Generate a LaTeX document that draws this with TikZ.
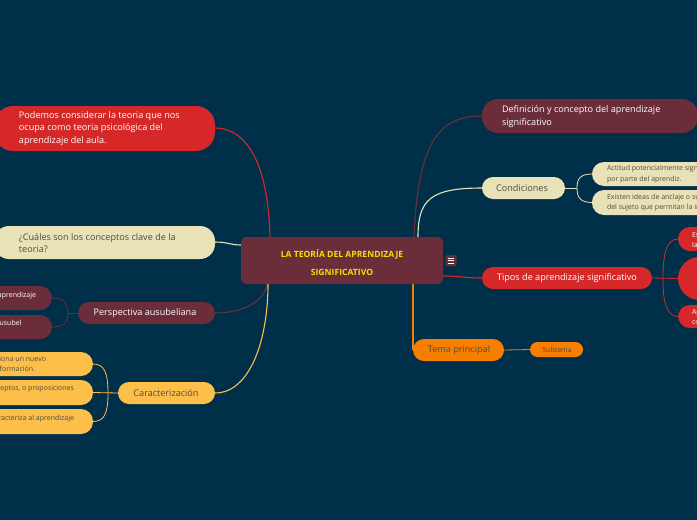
\documentclass[tikz,border=0pt]{standalone}
\usepackage{fontspec}
\setmainfont{Open Sans}
\definecolor{cbg}{HTML}{003049}
\definecolor{cred}{HTML}{D62828}
\definecolor{corange}{HTML}{F77F00}
\definecolor{cyellow}{HTML}{FCBF49}
\definecolor{cbeige}{HTML}{EAE2B7}
\definecolor{cmaroon}{HTML}{6B2D3A}
\definecolor{ctitle}{HTML}{F2E200}
\definecolor{cdark}{HTML}{504A44}
\tikzset{
  pill/.style={rectangle, draw=none, inner sep=0pt, outer sep=0pt},
  redpill/.style={pill, fill=cred},
  maroonpill/.style={pill, fill=cmaroon},
  beigepill/.style={pill, fill=cbeige},
  yellowpill/.style={pill, fill=cyellow},
  orangepill/.style={pill, fill=corange},
  lbl/.style={inner sep=0pt, outer sep=0pt, align=left},
  lblw/.style={lbl, text=white, font=\fontsize{9.1}{12.5}\selectfont},
  lbld/.style={lbl, text=cdark, font=\fontsize{9.1}{12.5}\selectfont},
  smallw/.style={lbl, text=white, font=\fontsize{7}{10}\selectfont},
  smalld/.style={lbl, text=cdark, font=\fontsize{7}{10.5}\selectfont},
  conn/.style={line width=1.1pt},
  brk/.style={line width=0.8pt},
}
\begin{document}
\begin{tikzpicture}[x=1pt,y=-1pt]
\useasboundingbox (0,0) rectangle (697,520);
\clip (0,0) rectangle (697,520);
\fill[cbg] (0,0) rectangle (697,520);

% attachment points on the central node
\coordinate (ctopL) at (270,237);
\coordinate (cleft) at (241,245);
\coordinate (cbotL) at (267,284);
\coordinate (cbotY) at (268,284);
\coordinate (ctopM) at (414,237);
\coordinate (ctopB) at (418,237);
\coordinate (cright) at (443,276);
\coordinate (cbotO) at (413,284);

% connectors from the central node
\draw[conn, cred] (ctopL) .. controls (268,160) and (245,128) .. (215,128);
\draw[conn, cbeige] (cleft) .. controls (230,245) and (228,242) .. (215,242);
\draw[conn, cmaroon] (cbotL) .. controls (265,300) and (245,313) .. (215,313);
\draw[conn, cyellow] (cbotY) .. controls (268,340) and (250,393) .. (215,393);
\draw[conn, cmaroon] (ctopM) .. controls (418,140) and (440,116) .. (482,116);
\draw[conn, cbeige] (ctopB) .. controls (418,200) and (430,188) .. (482,188);
\draw[conn, cred] (cright) .. controls (460,276) and (465,278) .. (482,278);
\draw[conn, corange] (cbotO) -- (413,350);

% central node
\node[maroonpill, rounded corners=5, minimum width=202, minimum height=47] (cen) at (342,260.5) {};
\node[lbl, align=center, text=ctitle, font=\bfseries\fontsize{8.6}{18}\selectfont] (cent) at (342,263) {LA TEORÍA DEL APRENDIZAJE\\SIGNIFICATIVO};
\node[maroonpill, rounded corners=1.5, minimum width=11, minimum height=11] (menu) at (451,260.7) {};
\draw[white, line width=0.9pt] (447.8,258.3) -- (454.2,258.3);
\draw[white, line width=0.9pt] (447.8,260.7) -- (454.2,260.7);
\draw[white, line width=0.9pt] (447.8,263.1) -- (454.2,263.1);

% left side
\node[redpill, rounded corners=19, minimum width=221, minimum height=45] (pod) at (104.5,128.5) {};
\node[lblw, anchor=west] (podt) at (19,128.5) {Podemos considerar la teoria que nos\\ocupa como teoria psicológica del\\aprendizaje del aula.};

\node[beigepill, rounded corners=15, minimum width=221, minimum height=33] (cua) at (104.5,242.5) {};
\node[lbld, anchor=west] (cuat) at (19,243) {¿Cuáles son los conceptos clave de la\\teoria?};

\node[maroonpill, rounded corners=11, minimum width=137, minimum height=22] (per) at (146.5,313) {};
\node[lblw] (pert) at (145,313) {Perspectiva ausubeliana};

\node[maroonpill, rounded corners=12, minimum width=112, minimum height=24] (pa1) at (-4,298) {};
\node[smallw, anchor=base east] (pa1t) at (36,297.5) {aprendizaje};
\node[maroonpill, rounded corners=12, minimum width=112, minimum height=24] (pa2) at (-4,327) {};
\node[smallw, anchor=base east] (pa2t) at (21.5,325.5) {Ausubel};
\draw[brk, cmaroon] (per.west) -- (68,313);
\draw[brk, cmaroon] (pa1.east) .. controls (62,298) and (68,302) .. (68,313) .. controls (68,324) and (62,327) .. (pa2.east);

\node[yellowpill, rounded corners=11, minimum width=97, minimum height=22] (car) at (166.5,393) {};
\node[lbld] (cart) at (166,393) {Caracterización};

\node[yellowpill, rounded corners=12, minimum width=153, minimum height=24] (ca1) at (16.5,364) {};
\node[smalld, anchor=base east] (ca1a) at (46,361.5) {relaciona un nuevo};
\node[smalld, anchor=base east] (ca1b) at (35,371.5) {información.};
\node[yellowpill, rounded corners=12, minimum width=153, minimum height=25] (ca2) at (16.5,392.5) {};
\node[smalld, anchor=base east] (ca2t) at (74,390.5) {conceptos, o proposiciones};
\node[yellowpill, rounded corners=12, minimum width=153, minimum height=25] (ca3) at (16.5,421.5) {};
\node[smalld, anchor=base east] (ca3t) at (74,420.5) {caracteriza al aprendizaje};
\draw[brk, cyellow] (ca2.east) -- (car.west);
\draw[brk, cyellow] (ca1.east) .. controls (104,364) and (108,372) .. (108,393) .. controls (108,414) and (104,421.5) .. (ca3.east);

% right side
\node[maroonpill, rounded corners=16, minimum width=216, minimum height=34] (def) at (590,116) {};
\node[lblw, anchor=west] (deft) at (502,116.5) {Definición y concepto del aprendizaje\\significativo};

\node[beigepill, rounded corners=11, minimum width=83, minimum height=22] (con) at (523.5,188) {};
\node[lbld] (cont) at (522,188) {Condiciones};
\node[beigepill, rounded corners=12, minimum width=150, minimum height=24] (co1) at (667,174) {};
\node[smalld, anchor=west] (co1t) at (607,174.2) {Actitud potencialmente significativa\\por parte del aprendiz.};
\node[beigepill, rounded corners=12, minimum width=150, minimum height=25] (co2) at (667,202.5) {};
\node[smalld, anchor=west] (co2t) at (607,202.7) {Existen ideas de anclaje o subsunsores\\del sujeto que permitan la interacción};
\draw[brk, cbeige] (con.east) -- (577,188);
\draw[brk, cbeige] (co1.west) .. controls (580,174) and (577,179) .. (577,188) .. controls (577,197) and (580,202.5) .. (co2.west);

\node[redpill, rounded corners=11, minimum width=170, minimum height=22] (tip) at (567,278) {};
\node[lblw] (tipt) at (567,278) {Tipos de aprendizaje significativo};
\node[redpill, rounded corners=12, minimum width=100, minimum height=24] (ti1) at (728,239) {};
\node[smallw, anchor=west] (ti1t) at (692,239.5) {Es el aprendizaje más\\la atribución de};
\node[redpill, circle, minimum size=43] (ti2) at (699.5,278.5) {};
\node[redpill, rounded corners=12, minimum width=100, minimum height=23] (ti3) at (728,316.5) {};
\node[smallw, anchor=west] (ti3t) at (692,317.5) {Aprendizaje de\\conceptos};
\draw[brk, cred] (tip.east) -- (ti2.west);
\draw[brk, cred] (ti1.west) .. controls (666,239) and (663,255) .. (663,278) .. controls (663,301) and (666,316.5) .. (ti3.west);

\node[orangepill, rounded corners=11, minimum width=91, minimum height=22] (tem) at (458.5,350) {};
\node[lbld] (temt) at (459,350) {Tema principal};
\node[orangepill, rounded corners=7.5, minimum width=53, minimum height=15] (sub) at (556.5,349.5) {};
\node[lbl, text=cdark, font=\fontsize{7}{8}\selectfont] (subt) at (557,349.5) {Subtema};
\draw[brk, corange] (tem.east) -- (sub.west);
\end{tikzpicture}
\end{document}
